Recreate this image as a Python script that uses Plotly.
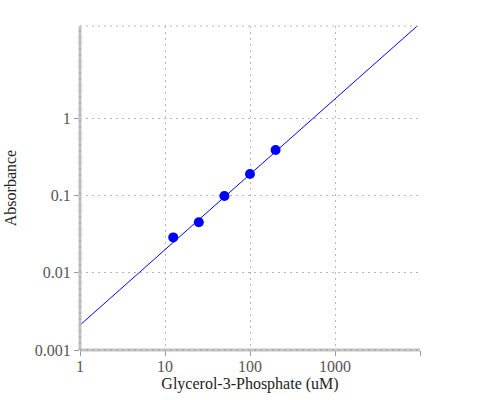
import numpy as np
import plotly.graph_objects as go

# ── data ──
conc_um = [12.5, 25, 50, 100, 200]
absorbance = [0.0286, 0.0448, 0.098, 0.189, 0.386]

# fitted power-law line (log-log)
fit_slope = 0.975
fit_intercept = 0.0021
fit_x = [1, 10000]

x_ticks = [1, 10, 100, 1000, 10000]
x_ticktext = ["1", "10", "100", "1000", ""]
y_ticks = [0.001, 0.01, 0.1, 1]
y_ticktext = ["0.001", "0.01", "0.1", "1"]

BLUE = "#0000ff"
AXIS_GREY = "#c4c4c4"
DOT_GREY = "#9a9a9a"
FONT = "Liberation Serif, Times New Roman, serif"

fit_y = [fit_intercept * x ** fit_slope for x in fit_x]

fig = go.Figure()
fig.add_trace(go.Scatter(
    x=fit_x, y=fit_y, mode="lines",
    line=dict(color=BLUE, width=1),
    showlegend=False, hoverinfo="skip",
))
fig.add_trace(go.Scatter(
    x=conc_um, y=absorbance, mode="markers",
    marker=dict(color=BLUE, size=10),
    showlegend=False,
))

axis_common = dict(
    type="log",
    automargin=False,
    showline=False,
    ticks="outside", ticklen=5, tickcolor=DOT_GREY, tickwidth=1,
    showgrid=True, gridcolor="#b5b5b5", griddash="2px,4px", gridwidth=1,
    zeroline=False,
    tickfont=dict(family=FONT, size=16, color="#555555"),
)

fig.update_xaxes(
    **axis_common,
    range=[0, 4],
    tickvals=x_ticks, ticktext=x_ticktext,
    ticklabelstandoff=-3,
    title=dict(text="Glycerol-3-Phosphate (uM)", font=dict(family=FONT, size=16, color="#222222"), standoff=2),
)
fig.update_yaxes(
    **axis_common,
    range=[-3, 1.19],
    tickvals=y_ticks, ticktext=y_ticktext,
    title=dict(text="Absorbance", font=dict(family=FONT, size=16, color="#222222"), standoff=14),
)

# axis lines: thick light grey with dotted overlay; dotted top border
for x0, x1, y0, y1 in [(0, 0, 0, 1), (0, 1, 0, 0)]:
    fig.add_shape(type="line", xref="paper", yref="paper", x0=x0, x1=x1, y0=y0, y1=y1,
                  line=dict(color=AXIS_GREY, width=3), layer="above")
    fig.add_shape(type="line", xref="paper", yref="paper", x0=x0, x1=x1, y0=y0, y1=y1,
                  line=dict(color=DOT_GREY, width=1, dash="2px,4px"), layer="above")
fig.add_shape(type="line", xref="paper", yref="paper", x0=0, x1=1, y0=1, y1=1,
              line=dict(color="#b5b5b5", width=1, dash="2px,4px"))

fig.update_layout(
    width=500, height=400,
    margin=dict(l=80, r=80, t=26, b=50),
    paper_bgcolor="white", plot_bgcolor="white",
    font=dict(family=FONT),
)

# drop the page's default 8px body margin so the figure sits at the corner
fig.write_html("out.html", config={"displayModeBar": False},
               post_script="document.body.style.margin='0';")
